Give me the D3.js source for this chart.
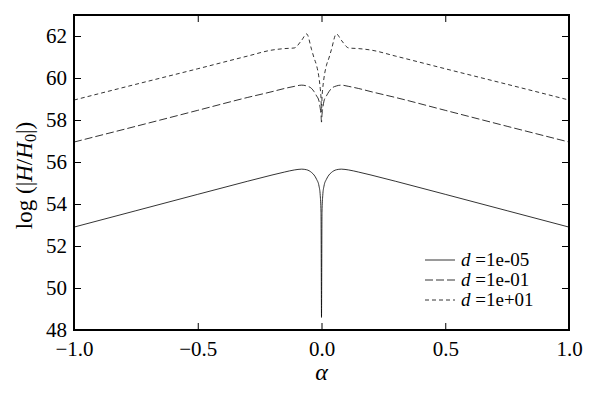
<!DOCTYPE html>
<html>
<head>
<meta charset="utf-8">
<script src="https://cdn.jsdelivr.net/npm/d3@7"></script>
<style>
  body { margin: 0; background: #fff; }
  svg text { font-family: "Liberation Serif", "DejaVu Serif", serif; fill: #000; }
</style>
</head>
<body>
<svg id="chart" width="598" height="405"></svg>
<script>
// values (symmetric about alpha = 0)
var alpha = [-1, -0.75, -0.5, -0.3, -0.2, -0.15, -0.11, -0.08, -0.06, -0.04, -0.03, -0.02, -0.01, -0.005, -0.002, 0,
             0.002, 0.005, 0.01, 0.02, 0.03, 0.04, 0.06, 0.08, 0.11, 0.15, 0.2, 0.3, 0.5, 0.75, 1];

var series_d1e05 = [52.9, 53.68, 54.46, 55.08, 55.38, 55.52, 55.62, 55.66, 55.63, 55.5, 55.38, 55.18, 54.85, 54.4, 53.6, 48.6,
                    53.6, 54.4, 54.85, 55.18, 55.38, 55.5, 55.63, 55.66, 55.62, 55.52, 55.38, 55.08, 54.46, 53.68, 52.9];
var series_d1e01 = [56.95, 57.7, 58.46, 59.07, 59.35, 59.5, 59.6, 59.66, 59.62, 59.5, 59.35, 59.15, 58.9, 58.55, 58.25, 57.9,
                    58.25, 58.55, 58.9, 59.15, 59.35, 59.5, 59.62, 59.66, 59.6, 59.5, 59.35, 59.07, 58.46, 57.7, 56.95];
var series_d1e10 = [58.95, 59.7, 60.44, 61.04, 61.33, 61.4, 61.43, 61.8, 62.1, 61.35, 60.95, 60.6, 60.0, 59.5, 59.05, 58.4,
                    59.05, 59.5, 60.0, 60.6, 60.95, 61.35, 62.1, 61.8, 61.43, 61.4, 61.33, 61.04, 60.44, 59.7, 58.95];

var seriesNames = ["1e-05", "1e-01", "1e+01"];
var seriesDash = [null, "8,3", "4,3"];
var xTicks = [-1, -0.5, 0, 0.5, 1];
var yTicks = [48, 50, 52, 54, 56, 58, 60, 62];

var svg = d3.select("#chart");
var plotLeft = 74, plotRight = 569, plotTop = 15, plotBottom = 330;

var x = d3.scaleLinear().domain([-1, 1]).range([plotLeft, plotRight]);
var y = d3.scaleLinear().domain([48, 63]).range([plotBottom, plotTop]);

svg.append("clipPath").attr("id", "clip")
  .append("rect").attr("x", plotLeft).attr("y", plotTop)
  .attr("width", plotRight - plotLeft).attr("height", plotBottom - plotTop);

var allSeries = [series_d1e05, series_d1e01, series_d1e10];

var line = d3.line()
  .x(function(d, i){ return x(alpha[i]); })
  .y(function(d){ return y(d); })
  .curve(d3.curveMonotoneX);

svg.append("g").attr("clip-path", "url(#clip)")
  .selectAll("path")
  .data(allSeries)
  .enter()
  .append("path")
  .attr("d", line)
  .attr("fill", "none")
  .attr("stroke", "#000")
  .attr("stroke-width", 0.8)
  .attr("stroke-dasharray", function(d, i){ return seriesDash[i]; });

function fmtX(v){
  var s = d3.format(".1f")(v);
  return s.replace("-", "\u2212");
}

// axes, ticks pointing inward on all four sides
var tickLen = 7;
var xAxisB = d3.axisBottom(x).tickValues(xTicks).tickSizeInner(-tickLen).tickSizeOuter(0).tickPadding(11).tickFormat(fmtX);
var xAxisT = d3.axisTop(x).tickValues(xTicks).tickSizeInner(-tickLen).tickSizeOuter(0).tickFormat("");
var yAxisL = d3.axisLeft(y).tickValues(yTicks).tickSizeInner(-tickLen).tickSizeOuter(0).tickPadding(7).tickFormat(d3.format("d"));
var yAxisR = d3.axisRight(y).tickValues(yTicks).tickSizeInner(-tickLen).tickSizeOuter(0).tickFormat("");

function styleAxis(g){
  g.select(".domain").remove();
  g.selectAll(".tick line").attr("stroke", "#000").attr("stroke-width", 1);
  g.selectAll(".tick text").attr("font-size", 21);
}

svg.append("g").attr("transform", "translate(0," + plotBottom + ")").call(xAxisB).call(styleAxis);
svg.append("g").attr("transform", "translate(0," + plotTop + ")").call(xAxisT).call(styleAxis);
svg.append("g").attr("transform", "translate(" + plotLeft + ",0)").call(yAxisL).call(styleAxis);
svg.append("g").attr("transform", "translate(" + plotRight + ",0)").call(yAxisR).call(styleAxis);

svg.append("rect")
  .attr("x", plotLeft).attr("y", plotTop)
  .attr("width", plotRight - plotLeft).attr("height", plotBottom - plotTop)
  .attr("fill", "none").attr("stroke", "#000").attr("stroke-width", 2);

// axis labels
svg.append("text")
  .attr("x", x(0)).attr("y", 380)
  .attr("text-anchor", "middle")
  .attr("font-size", 24).attr("font-style", "italic")
  .text("\u03b1");

var ylab = svg.append("text")
  .attr("transform", "translate(32," + ((plotTop + plotBottom) / 2 + 3) + ") rotate(-90)")
  .attr("text-anchor", "middle")
  .attr("font-size", 23);
ylab.append("tspan").text("log (|");
ylab.append("tspan").attr("font-style", "italic").text("H");
ylab.append("tspan").text("/");
ylab.append("tspan").attr("font-style", "italic").text("H");
ylab.append("tspan").attr("font-size", 16).attr("dy", 4).text("0");
ylab.append("tspan").attr("dy", -4).text("|)");

// legend
var legend = svg.append("g").attr("transform", "translate(425,260)");
var rows = legend.selectAll("g")
  .data(seriesNames)
  .enter()
  .append("g")
  .attr("transform", function(d, i){ return "translate(0," + (i * 20) + ")"; });

rows.append("line")
  .attr("x1", 0).attr("x2", 30).attr("y1", 0).attr("y2", 0)
  .attr("stroke", "#000").attr("stroke-width", 0.8)
  .attr("stroke-dasharray", function(d, i){ return seriesDash[i]; });

var lt = rows.append("text")
  .attr("x", 36).attr("y", 6)
  .attr("font-size", 19);
lt.append("tspan").attr("font-style", "italic").text("d");
lt.append("tspan").text(function(d){ return " =" + d; });
</script>
</body>
</html>
